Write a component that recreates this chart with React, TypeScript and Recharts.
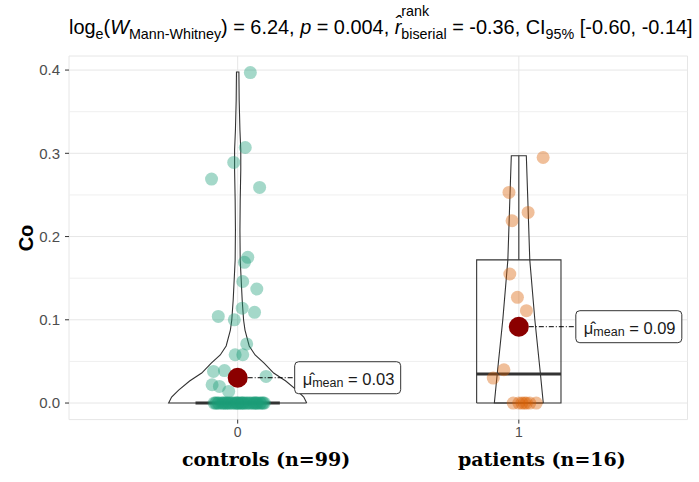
import React from 'react';
import { ComposedChart, Scatter, XAxis, YAxis, CartesianGrid, ReferenceLine } from 'recharts';

// ---------- data ----------
const groupNames = ['controls (n=99)', 'patients (n=16)'];
const groupTicks = [0, 1];
const yTicks = [0, 0.1, 0.2, 0.3, 0.4];
const yMinor = [0.05, 0.15, 0.25, 0.35];

// non-zero control observations (jitter offset, value)
const controlsJitter = [0.045, 0.027, -0.014, -0.093, 0.078, 0.036, 0.024, 0.018, 0.068, 0.016, 0.06, -0.069, -0.012, 0.032, -0.009, 0.018, -0.086, -0.047, 0.101, -0.091, -0.065, -0.032];
const controlsValues = [0.397, 0.307, 0.289, 0.269, 0.259, 0.175, 0.169, 0.146, 0.137, 0.114, 0.109, 0.104, 0.1, 0.071, 0.058, 0.058, 0.038, 0.039, 0.032, 0.022, 0.02, 0.014];
// control observations equal to zero (jitter offsets)
const controlsZeroJitter = [-0.084, -0.079, -0.07, -0.067, -0.058, -0.053, -0.05, -0.041, -0.037, -0.031, -0.028, -0.02, -0.017, -0.009, -0.006, 0.001, 0.003, 0.011, 0.013, 0.02, 0.024, 0.031, 0.034, 0.041, 0.045, 0.052, 0.057, 0.061, 0.068, 0.071, 0.079, 0.082, 0.088, 0.095, -0.076, -0.044, -0.002, 0.017, 0.064, 0.091];

const patientsJitter = [0.0865, -0.035, 0.033, -0.024, -0.032, -0.005, 0.027, -0.053, -0.091];
const patientsValues = [0.295, 0.253, 0.229, 0.219, 0.155, 0.127, 0.111, 0.04, 0.03];
const patientsZeroJitter = [-0.02, 0.0, 0.011, 0.02, 0.027, 0.039, 0.062];

// violin outlines (value, half width)
const controlsViolinY = [0, 0.0072, 0.0156, 0.0264, 0.036, 0.048, 0.0577, 0.0685, 0.0877, 0.0997, 0.1237, 0.1477, 0.1718, 0.2078, 0.2438, 0.2799, 0.3039, 0.3279, 0.364, 0.3976];
const controlsViolinHalf = [0.2456, 0.235, 0.21, 0.171, 0.128, 0.094, 0.062, 0.041, 0.026, 0.021, 0.016, 0.0125, 0.009, 0.008, 0.009, 0.011, 0.011, 0.008, 0.0053, 0.0043];
const patientsViolinY = [0, 0.036, 0.1, 0.172, 0.244, 0.297];
const patientsViolinHalf = [0.087, 0.0765, 0.057, 0.039, 0.032, 0.0267];

// box plot statistics
const boxQ1 = [0, 0];
const boxMedian = [0, 0.035];
const boxQ3 = [0.0, 0.172];
const boxWhiskerHigh = [0.0, 0.297];

const groupMeans = [0.0304, 0.0917];
const meanLabels = ['0.03', '0.09'];

// ---------- derived tables ----------
const greenPoints = [
  ...controlsJitter.map((j, i) => ({ x: 0 + j, y: controlsValues[i] })),
  ...controlsZeroJitter.map((j) => ({ x: 0 + j, y: 0 })),
];
const orangePoints = [
  ...patientsJitter.map((j, i) => ({ x: 1 + j, y: patientsValues[i] })),
  ...patientsZeroJitter.map((j) => ({ x: 1 + j, y: 0 })),
];

function violinPath(center: number, ys: number[], hw: number[]) {
  const right = ys.map((y, i) => ({ x: center + hw[i], y }));
  const left = ys.map((y, i) => ({ x: center - hw[i], y })).reverse();
  return [...right, ...left, right[0]];
}
const BOX_HALF = 0.15;
function boxPath(i: number) {
  return [
    { x: i - BOX_HALF, y: boxQ1[i] },
    { x: i + BOX_HALF, y: boxQ1[i] },
    { x: i + BOX_HALF, y: boxQ3[i] },
    { x: i - BOX_HALF, y: boxQ3[i] },
    { x: i - BOX_HALF, y: boxQ1[i] },
  ];
}
const medianPath = (i: number) => [
  { x: i - BOX_HALF, y: boxMedian[i] },
  { x: i + BOX_HALF, y: boxMedian[i] },
];
const whiskerPath = (i: number) => [
  { x: i, y: boxQ3[i] },
  { x: i, y: boxWhiskerHigh[i] },
];
const meanPoints = groupMeans.map((m, i) => ({ x: i, y: m, label: meanLabels[i] }));

const Empty = () => <g />;

const dot = (color: string) => (p: any) => (
  <circle cx={p.cx} cy={p.cy} r={6.5} fill={color} fillOpacity={0.4} />
);

const MeanShape = (p: any) => {
  const { cx, cy, payload } = p;
  const bx = cx + 57;
  return (
    <g>
      <line x1={cx} y1={cy} x2={bx} y2={cy} stroke="#000" strokeWidth={1} strokeDasharray="5 2 1 2" />
      <circle cx={cx} cy={cy} r={10} fill="#8B0000" />
      <rect x={bx} y={cy - 16} width={106} height={32} rx={4} fill="#fff" stroke="#333" strokeWidth={1} />
      <text x={bx + 8} y={cy + 7} fontFamily="'Liberation Sans', Arial, sans-serif" fontSize={16.5} fill="#1a1a1a">
        <tspan>{'\u03BC\u0302'}</tspan>
        <tspan fontSize={12.5} dy={2}>mean</tspan>
        <tspan dy={-2}>{' = ' + payload.label}</tspan>
      </text>
    </g>
  );
};

const lineStyle = { stroke: '#333', strokeWidth: 1.1 };

export default function App() {
  const sans = "'Liberation Sans', Arial, sans-serif";
  const sub = { fontSize: 14.3, position: 'relative' as const, top: 5 };
  return (
    <div style={{ position: 'absolute', left: 0, top: 0, width: 699, height: 482, background: '#fff' }}>
      <ComposedChart width={699} height={482} margin={{ top: 56, right: 11.5, bottom: 32.4, left: 9 }}>
        <CartesianGrid stroke="#E6E6E6" strokeWidth={1} />
        {yMinor.map((v) => (
          <ReferenceLine key={v} y={v} stroke="#EFEFEF" strokeWidth={1} />
        ))}
        <XAxis
          type="number"
          dataKey="x"
          domain={[-0.6, 1.6]}
          ticks={groupTicks}
          allowDataOverflow
          axisLine={false}
          tickSize={4}
          tickMargin={3}
          tickLine={{ stroke: '#333' }}
          tick={{ fill: '#4D4D4D', fontSize: 14, fontFamily: sans }}
          height={30}
        />
        <YAxis
          type="number"
          dataKey="y"
          domain={[-0.0199, 0.4169]}
          ticks={yTicks}
          allowDataOverflow
          axisLine={false}
          tickSize={4}
          tickMargin={5}
          tickLine={{ stroke: '#333' }}
          tickFormatter={(v: number) => v.toFixed(1)}
          tick={{ fill: '#4D4D4D', fontSize: 15, fontFamily: sans }}
          width={60}
        />
        <Scatter data={violinPath(0, controlsViolinY, controlsViolinHalf)} line={lineStyle} shape={Empty} isAnimationActive={false} />
        <Scatter data={violinPath(1, patientsViolinY, patientsViolinHalf)} line={lineStyle} shape={Empty} isAnimationActive={false} />
        <Scatter data={boxPath(1)} line={lineStyle} shape={Empty} isAnimationActive={false} />
        <Scatter data={whiskerPath(1)} line={lineStyle} shape={Empty} isAnimationActive={false} />
        <Scatter data={medianPath(0)} line={{ stroke: '#333', strokeWidth: 3 }} shape={Empty} isAnimationActive={false} />
        <Scatter data={medianPath(1)} line={{ stroke: '#333', strokeWidth: 3 }} shape={Empty} isAnimationActive={false} />
        <Scatter data={greenPoints} shape={dot('#1B9E77')} isAnimationActive={false} />
        <Scatter data={orangePoints} shape={dot('#D95F02')} isAnimationActive={false} />
        <Scatter data={meanPoints} shape={MeanShape} isAnimationActive={false} />
      </ComposedChart>

      <svg width={699} height={482} style={{ position: 'absolute', left: 0, top: 0, pointerEvents: 'none' }}>
        <text transform="translate(33,238) rotate(-90)" textAnchor="middle" fontFamily={sans} fontWeight="bold" fontSize={20} fill="#000">Co</text>
        <text x={182} y={466} fontFamily="'DejaVu Serif', serif" fontWeight="bold" fontSize={19} fill="#000">{groupNames[0]}</text>
        <text x={458} y={466} fontFamily="'DejaVu Serif', serif" fontWeight="bold" fontSize={19} fill="#000">{groupNames[1]}</text>
      </svg>

      <div style={{ position: 'absolute', left: 69, top: 15, fontFamily: sans, fontSize: 19.9, lineHeight: '24px', whiteSpace: 'nowrap', color: '#000' }}>
        log<span style={sub}>e</span>(<i>W</i><span style={sub}>Mann-Whitney</span>) = 6.24, <i>p</i> = 0.004,{' '}
        <i>{'r\u0302'}</i>
        <span style={{ display: 'inline-flex', flexDirection: 'column', fontSize: 14.3, lineHeight: '14px', position: 'relative', top: -18 }}>
          <span>rank</span>
          <span style={{ marginTop: 9 }}>biserial</span>
        </span>{' '}
        = -0.36, CI<span style={sub}>95%</span> [-0.60, -0.14]
      </div>
    </div>
  );
}
